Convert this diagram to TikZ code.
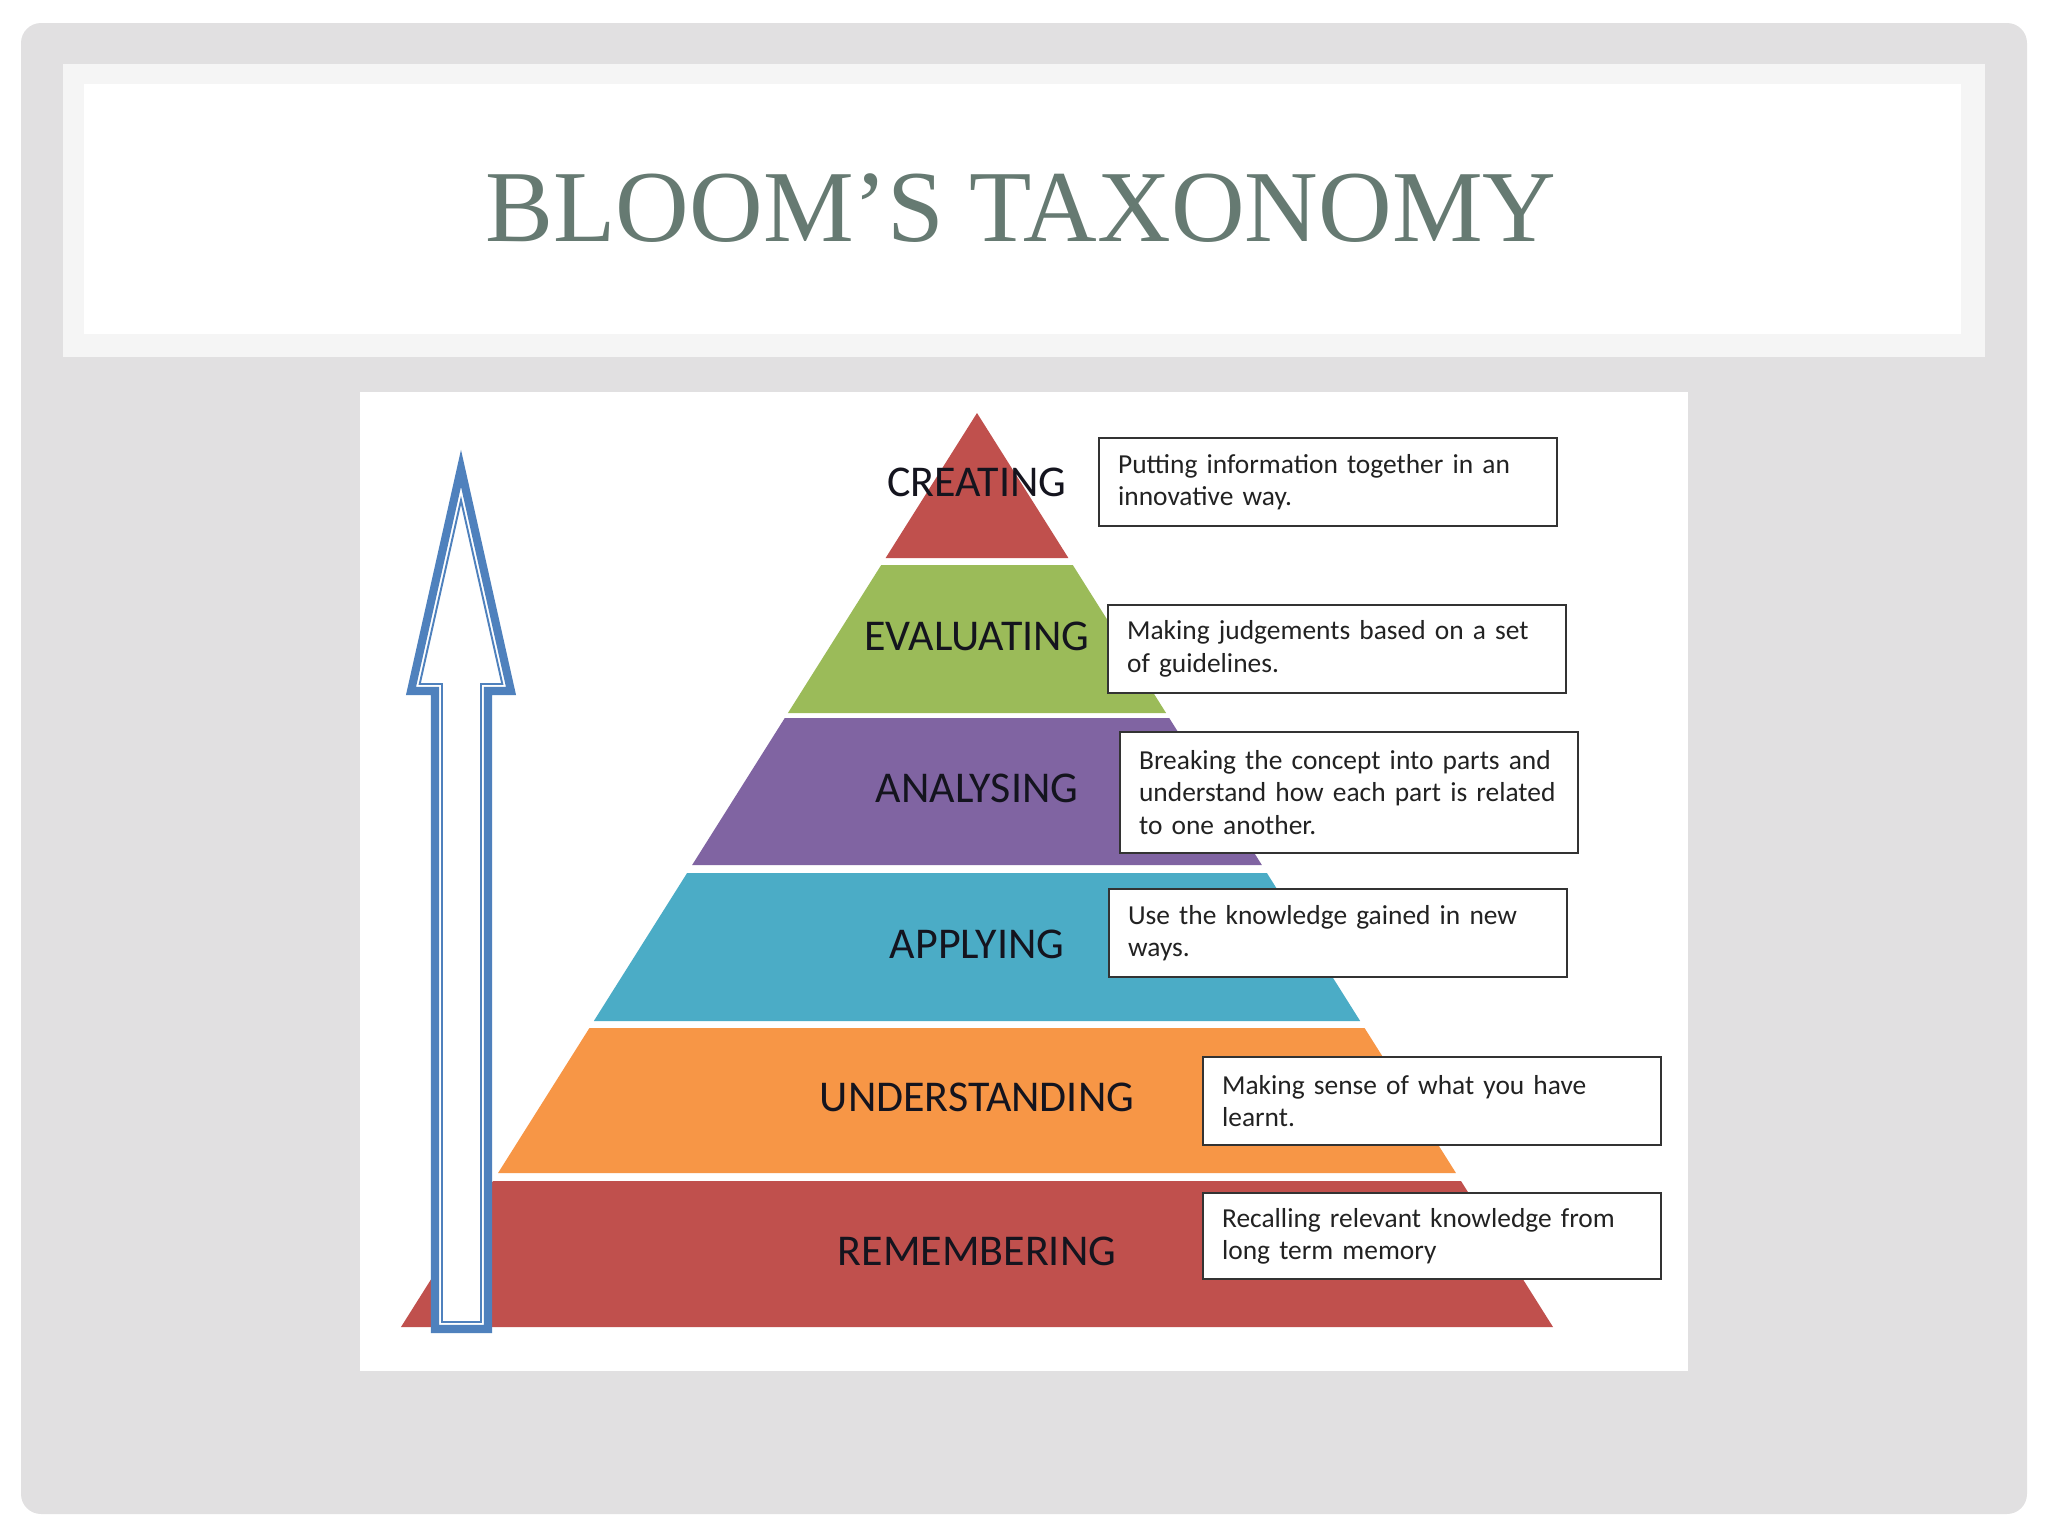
\documentclass[tikz,border=0pt]{standalone}
\usepackage{fontspec}
\setmainfont{Carlito}
\newfontfamily\titlefont{Liberation Serif}
\newfontfamily\boxfont{Carlito}[WordSpace=0.6]

\definecolor{slidegrey}{HTML}{E1E0E1}
\definecolor{bandgrey}{HTML}{F5F5F5}
\definecolor{titlegreen}{HTML}{667A72}
\definecolor{lvlred}{HTML}{C0504D}
\definecolor{lvlgreen}{HTML}{9BBB59}
\definecolor{lvlpurple}{HTML}{8064A2}
\definecolor{lvlcyan}{HTML}{4BACC6}
\definecolor{lvlorange}{HTML}{F79646}
\definecolor{arrowblue}{HTML}{4F81BD}
\definecolor{labeltext}{HTML}{14141E}
\definecolor{boxtext}{HTML}{222222}

\newcommand*{\apexx}{977}
\newcommand*{\apexy}{413}
\newcommand*{\slope}{0.6302}

\begin{document}
\begin{tikzpicture}
[
	x=0.01cm, y=-0.01cm,
	level/.style={font=\fontsize{12.5}{15}\selectfont,text=labeltext,anchor=base,inner sep=0pt},
	descbox/.style={draw=black!80,line width=0.6pt,fill=white,text=boxtext,
		font=\boxfont\fontsize{7.8}{9.2}\selectfont,align=left,text width=4.2cm,
		inner xsep=0.19cm,inner ysep=0pt,anchor=west,minimum height=0.88cm}
]

	\useasboundingbox (0,0) rectangle (2048,1536);

	% slide background
	\fill[slidegrey,rounded corners=0.2cm] (21,23) rectangle (2027,1514);
	\fill[bandgrey] (63,64) rectangle (1985,357);
	\fill[white] (84,84) rectangle (1961,334);
	\node[font=\titlefont\fontsize{29}{34}\selectfont,text=titlegreen,anchor=base,inner sep=0pt]
		(title) at (1021,241) {BLOOM’S TAXONOMY};

	% picture area
	\fill[white] (360,392) rectangle (1688,1371);

	% pyramid levels
	\foreach \t/\b/\c/\name/\lab in {
		413/558/lvlred/creating/CREATING,
		565/713/lvlgreen/evaluating/EVALUATING,
		718/865/lvlpurple/analysing/ANALYSING,
		873/1021/lvlcyan/applying/APPLYING,
		1028/1173/lvlorange/understanding/UNDERSTANDING,
		1181/1327/lvlred/remembering/REMEMBERING} {
		\fill[\c] ({\apexx-\slope*(\t-\apexy)},\t) -- ({\apexx+\slope*(\t-\apexy)},\t)
			-- ({\apexx+\slope*(\b-\apexy)},\b) -- ({\apexx-\slope*(\b-\apexy)},\b) -- cycle;
		\node[level] (\name) at (\apexx,{(\t+\b)/2+11}) {\lab};
	}

	% arrow
	\draw[arrowblue,line width=2.3pt,fill=white]
		(461,468.3) -- (511,691) -- (488,691) -- (488,1329)
		-- (435,1329) -- (435,691) -- (411,691) -- cycle;
	\draw[arrowblue,line width=0.55pt]
		(461,500.2) -- (502.3,684) -- (481,684) -- (481,1322)
		-- (442,1322) -- (442,684) -- (419.7,684) -- cycle;

	% descriptions
	\node[descbox] (createbox) at (1098,482) {Putting information together in an\\innovative way.};
	\node[descbox] (evalbox) at (1107,649) {Making judgements based on a set\\of guidelines.};
	\node[descbox,minimum height=1.21cm] (analysebox) at (1119,792.5)
		{Breaking the concept into parts and\\understand how each part is related\\to one another.};
	\node[descbox] (applybox) at (1108,933) {Use the knowledge gained in new\\ways.};
	\node[descbox] (understandbox) at (1202,1101) {Making sense of what you have\\learnt.};
	\node[descbox,minimum height=0.86cm] (rememberbox) at (1202,1236)
		{Recalling relevant knowledge from\\long term memory};

\end{tikzpicture}
\end{document}
